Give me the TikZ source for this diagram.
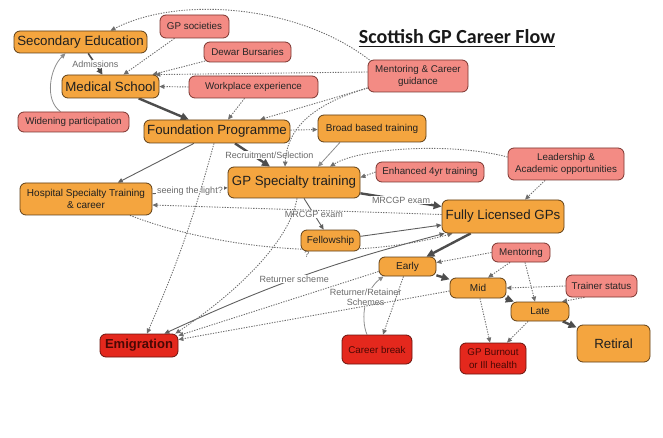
\documentclass[tikz,border=0pt]{standalone}
\usepackage{fontspec}
\setmainfont{Liberation Sans}
\newfontfamily\titlefont{Carlito}
\usetikzlibrary{arrows.meta}
\pgfdeclarelayer{bg}
\pgfsetlayers{bg,main}
\definecolor{orangef}{HTML}{F4A53F}
\definecolor{orangeb}{HTML}{5E3E16}
\definecolor{pinkf}{HTML}{F38B84}
\definecolor{pinkb}{HTML}{7A3530}
\definecolor{redf}{HTML}{E4281D}
\definecolor{redb}{HTML}{6A140E}
\definecolor{redt}{HTML}{4A0804}
\definecolor{edgeA}{HTML}{4D4D4D}
\definecolor{edgeD}{HTML}{6E6E6E}
\definecolor{edgeL}{HTML}{8C8C8C}
\definecolor{labelc}{HTML}{6A6A6A}
\tikzset{
 box/.style={rounded corners=6pt, inner sep=0pt, align=center, line width=0.8pt},
 sz/.style 2 args={minimum width=#1pt, minimum height=#2pt},
 orangebig/.style={box, draw=orangeb, fill=orangef, text=black!88, font=\fontsize{13.3}{15}\selectfont},
 orangesm/.style={box, draw=orangeb, fill=orangef, text=black!88, font=\fontsize{10}{12}\selectfont},
 pinkbox/.style={box, draw=pinkb, fill=pinkf, text=black!85, font=\fontsize{9.8}{12.5}\selectfont},
 redbox/.style={box, draw=redb, fill=redf, text=redt, font=\fontsize{9.8}{12.5}\selectfont},
 tip/.style={-{Triangle[length=#1,width=#1]}},
 thickline/.style={draw=edgeA, line width=2.4pt, -{Triangle[length=8pt,width=7.5pt]}},
 midline/.style={draw=edgeA, line width=1.6pt, -{Triangle[length=6pt,width=6pt]}},
 thinline/.style={draw=edgeA!90, line width=0.9pt, -{Triangle[length=5pt,width=4.5pt]}},
 lightline/.style={draw=edgeL, line width=0.8pt, -{Triangle[length=5pt,width=4.5pt]}},
 dotline/.style={draw=edgeD, line width=0.9pt, dash pattern=on 1.3pt off 1.3pt, -{Triangle[length=5pt,width=4.5pt]}},
 elabel/.style={text=labelc, font=\fontsize{9}{10.5}\selectfont, inner sep=1pt, align=center},
 flabel/.style={elabel, fill=white},
}
\begin{document}
\begin{tikzpicture}[x=1pt,y=-1pt]
\useasboundingbox (0,0) rectangle (663,438);

% title
\node[font=\titlefont\bfseries\fontsize{20}{24}\selectfont, text=black!90, inner sep=0pt, anchor=base] (title) at (457,44) {Scottish GP Career Flow};
\draw[line width=1.5pt, black!90] ([yshift=-2.5pt]title.base west) -- ([yshift=-2.5pt]title.base east);

% nodes
\node[orangebig, sz={133}{22}] (sec) at (80.5,42) {Secondary Education};
\node[pinkbox, sz={69}{23}] (gpsoc) at (194.5,26.5) {GP societies};
\node[pinkbox, sz={87}{20}] (dewar) at (247.5,52) {Dewar Bursaries};
\node[orangebig, sz={97}{23}] (med) at (110.5,86.5) {Medical School};
\node[pinkbox, sz={129}{22}] (work) at (253.5,87) {Workplace experience};
\node[pinkbox, sz={100}{32}] (ment) at (418,76) {Mentoring \& Career\\guidance};
\node[pinkbox, sz={111}{20}] (widen) at (73.5,122) {Widening participation};
\node[orangebig, sz={146}{23}] (found) at (217,131.5) {Foundation Programme};
\node[orangesm, sz={108}{27}] (broad) at (372,128.5) {Broad based training};
\node[orangesm, sz={132}{32}] (hosp) at (86,199) {Hospital Specialty Training\\\& career};
\node[orangebig, sz={132}{31}] (gpst) at (294,182.5) {GP Specialty training};
\node[pinkbox, sz={108}{20}] (enh) at (430,172) {Enhanced 4yr training};
\node[pinkbox, sz={116}{32}] (lead) at (566,164) {Leadership \&\\Academic opportunities};
\node[orangebig, sz={122}{33}] (flgp) at (503,216.5) {Fully Licensed GPs};
\node[orangesm, sz={59}{21}] (fell) at (330.5,240.5) {Fellowship};
\node[pinkbox, sz={58}{19}] (mentor) at (521,252.5) {Mentoring};
\node[orangesm, sz={57}{19}] (early) at (407.5,266.5) {Early};
\node[orangesm, sz={56}{20}] (mid) at (478,288) {Mid};
\node[pinkbox, sz={71}{22}] (trainer) at (601.5,286) {Trainer status};
\node[orangesm, sz={58}{19}] (late) at (540,311.5) {Late};
\node[orangebig, sz={73}{37}] (retiral) at (613.5,343.5) {Retiral};
\node[redbox, sz={78}{23}, font=\bfseries\fontsize{13}{15}\selectfont] (emig) at (139,345.5) {Emigration};
\node[redbox, sz={70}{29}] (career) at (377,349.5) {Career break};
\node[redbox, sz={66}{31}] (burnout) at (493,358.5) {GP Burnout\\or Ill health};

\begin{pgfonlayer}{bg}
% main flow
\draw[midline] (sec) -- node[flabel]{Admissions} (med);
\draw[thickline] (med) -- (found);
\draw[thickline] (found) -- node[flabel, xshift=17pt]{Recruitment/Selection} (gpst);
\draw[thickline] (gpst) -- node[flabel]{MRCGP exam} (flgp);
\draw[thickline] (flgp) -- (early);
\draw[thickline] (early) -- (mid);
\draw[thickline] (mid) -- (late);
\draw[thickline] (late) -- (retiral);

% thin solid
\draw[thinline] (found) -- (hosp);
\draw[thinline] (hosp) -- node[flabel]{seeing the light?} (gpst);
\draw[thinline] (gpst) -- node[flabel]{MRCGP exam} (fell);
\draw[thinline] (fell) -- (flgp);
\draw[thinline, {Triangle[length=5pt,width=4.5pt]}-{Triangle[length=5pt,width=4.5pt]}] ([xshift=-14pt]emig.north east) to[bend left=5] node[flabel, pos=0.47]{Returner scheme} ([xshift=3pt]flgp.south west);

% light solid
\draw[lightline] ([xshift=-13pt]widen.north) .. controls (44,100) and (50,68) .. ([xshift=-15pt]sec.south);
\draw[lightline] ([xshift=-32pt]broad.south) -- ([xshift=24pt]gpst.north);
\draw[lightline] ([xshift=-10pt]career.north) .. controls (360,318) and (365,290) .. node[flabel, pos=0.5, yshift=7pt]{Returner/Retainer\\Schemes} ([xshift=-24pt]early.south);

% dotted
\draw[dotline] ([xshift=4pt,yshift=-2pt]ment.north west) .. controls (300,5) and (180,-5) .. ([xshift=30pt]sec.north);
\draw[dotline] ([yshift=4pt]ment.west) -- ([xshift=-4pt]med.north east);
\draw[dotline] ([xshift=4pt,yshift=2pt]dewar.south west) -- ([xshift=-7pt]med.north east);
\draw[dotline] ([xshift=-20pt]gpsoc.south) -- ([xshift=13pt]med.north);
\draw[dotline] (work.west) -- (med.east);
\draw[dotline] ([xshift=-9pt]work.south) -- ([xshift=11pt]found.north);
\draw[dotline] ([yshift=-12pt]ment.west) -- ([xshift=43pt]found.north);
\draw[dotline] ([yshift=-12pt]ment.west) .. controls (310,105) and (287,130) .. ([xshift=-9pt]gpst.north);
\draw[dotline] (found) -- (broad);
\draw[dotline] ([xshift=-3pt]found.south) to[bend left=4] ([xshift=8pt]emig.north);
\draw[dotline] ([xshift=3pt]gpst.south) .. controls (290,240) and (240,290) .. ([xshift=-3pt]emig.north east);
\draw[dotline] (enh.west) -- ([yshift=5pt]gpst.east);
\draw[dotline] ([yshift=7pt]lead.west) .. controls (450,142) and (360,148) .. ([xshift=36pt]gpst.north);
\draw[dotline] ([xshift=-21pt]lead.south) -- ([xshift=22pt]flgp.north);
\draw[dotline] ([yshift=2pt]flgp.west) -- ([yshift=-6pt]hosp.east);
\draw[dotline] ([xshift=44pt]hosp.south) .. controls (220,250) and (350,262) .. node[elabel, pos=0.56, yshift=-5pt]{?} ([xshift=11pt]flgp.south west);
\draw[dotline] (mentor.west) -- ([yshift=4pt]early.east);
\draw[dotline] ([xshift=-11pt]mentor.south) -- ([xshift=10pt]mid.north);
\draw[dotline] ([xshift=4pt]mentor.south) -- ([xshift=-5pt]late.north);
\draw[dotline] (trainer.west) -- (mid.east);
\draw[dotline] ([xshift=-17pt]trainer.south) -- ([xshift=22pt]late.north);
\draw[dotline] ([xshift=-4pt]early.south) -- ([xshift=6pt]career.north);
\draw[dotline] ([xshift=2pt]mid.south) -- ([xshift=-3pt]burnout.north);
\draw[dotline] ([xshift=-12pt]late.south) -- ([xshift=14pt]burnout.north);
\draw[dotline] ([yshift=-5pt]early.west) -- ([yshift=-2pt]emig.north east);
\draw[dotline] ([yshift=-3pt]mid.west) -- ([yshift=-6pt]emig.north east);
\end{pgfonlayer}
\end{tikzpicture}
\end{document}
